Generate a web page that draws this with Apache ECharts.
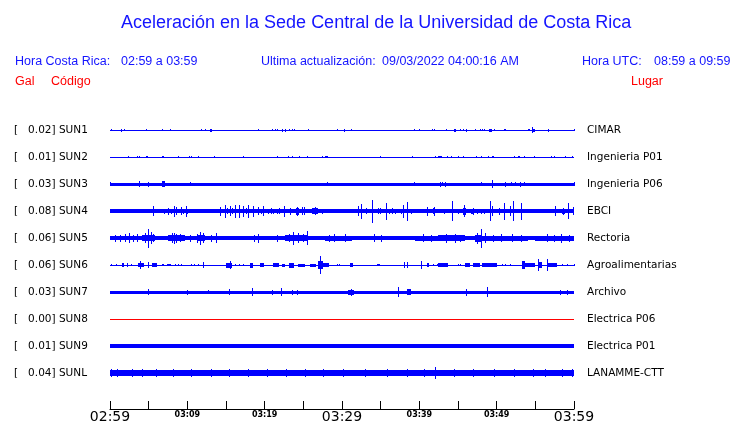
<!DOCTYPE html>
<html>
<head>
<meta charset="utf-8">
<title>Aceleración Sede Central UCR</title>
<script src="https://cdn.jsdelivr.net/npm/echarts@6.0.0/dist/echarts.min.js"></script>
<style>
  html, body { margin: 0; padding: 0; background: #fff; }
  #chart { width: 740px; height: 423px; }
</style>
</head>
<body>
<div id="chart"></div>
<script>
// estaciones (de arriba hacia abajo)
const codes = ['SUN1', 'SUN2', 'SUN3', 'SUN4', 'SUN5', 'SUN6', 'SUN7', 'SUN8', 'SUN9', 'SUNL']
const gal = [0.02, 0.01, 0.03, 0.08, 0.06, 0.06, 0.03, 0.00, 0.01, 0.04]
const places = ['CIMAR', 'Ingenieria P01', 'Ingenieria P06', 'EBCI', 'Rectoria',
  'Agroalimentarias', 'Archivo', 'Electrica P06', 'Electrica P01', 'LANAMME-CTT']

// eje de tiempo: minutos desde 02:59
const timeLabels = ['02:59', '03:09', '03:19', '03:29', '03:39', '03:49', '03:59']
const majorLabels = ['02:59', '03:29', '03:59']

// amplitud del ruido de fondo de cada traza (cuentas)
const baseAmp = [0.5, 0.5, 1.5, 1.8, 1.9, 0.5, 1.5, 0.5, 1.6, 3.0]

// eventos: [minuto inicio, minuto fin, semi-amplitud]
const sun1Events = [
  [0.13, 0.13, 1.0], [1.38, 1.48, 1.5], [1.85, 1.85, 1.2], [4.66, 4.66, 1.2], [6.77, 6.77, 1.2],
  [7.8, 7.8, 0.8], [11.8, 11.8, 1.2], [12.3, 12.3, 1.2], [12.9, 13.25, 1.5], [19.2, 19.2, 1.3],
  [20.9, 20.9, 1.2], [21.4, 21.5, 1.3], [21.6, 21.6, 1.2], [22.2, 22.4, 1.5], [22.6, 22.8, 1.5],
  [23.2, 23.2, 1.2], [23.5, 23.5, 1.2], [23.8, 23.8, 1.2], [25.6, 25.6, 1.2], [29.3, 29.3, 1.0],
  [30.2, 30.35, 1.5], [31.2, 31.2, 0.8], [39.35, 39.35, 1.2], [40.0, 40.0, 0.8], [41.7, 41.7, 1.2],
  [41.9, 41.9, 1.2], [43.4, 43.4, 0.8], [44.5, 44.8, 1.5], [45.2, 45.2, 1.2], [45.7, 45.7, 1.2],
  [46.0, 46.15, 1.5], [47.2, 47.2, 0.8], [47.8, 47.8, 1.2], [48.1, 48.1, 1.2], [48.4, 48.4, 1.2],
  [49.0, 49.4, 1.5], [49.7, 49.7, 1.2], [50.9, 51.2, 1.3], [54.0, 54.0, 1.2], [54.2, 54.2, 1.2],
  [54.6, 54.6, 3.3], [54.75, 55.0, 1.5], [56.6, 56.6, 1.5], [60, 60, 1.2]
]
const sun2Events = [
  [2.37, 2.37, 0.8], [3.45, 3.45, 0.8], [3.75, 3.75, 1.3], [4.65, 4.96, 1.2], [6.68, 6.94, 1.3],
  [8.84, 8.84, 0.8], [10.26, 10.26, 1.0], [10.47, 10.47, 1.2], [11.42, 11.42, 0.8], [13.49, 13.49, 0.8],
  [17.24, 17.24, 0.8], [21.64, 21.64, 0.8], [22.97, 22.97, 0.8], [23.58, 23.58, 1.2], [24.48, 24.48, 0.8],
  [25.52, 25.52, 0.8], [27.46, 27.46, 0.8], [27.8, 28.15, 1.2], [34.96, 34.96, 0.8], [39.1, 39.1, 0.8],
  [42.03, 42.03, 0.8], [42.46, 42.89, 1.2], [43.62, 43.62, 1.0], [44.05, 44.05, 1.2], [45.04, 45.04, 0.8],
  [45.69, 45.69, 1.2], [47.33, 47.33, 0.8], [47.93, 47.93, 0.8], [48.84, 48.84, 0.8], [49.44, 49.7, 1.3],
  [52.28, 52.28, 0.8], [52.72, 52.97, 1.3], [53.49, 53.49, 0.8], [54.87, 54.87, 0.8], [56.98, 57.16, 1.0],
  [57.46, 57.46, 0.8], [58.88, 58.88, 0.8], [59.7, 59.7, 0.8]
]
const sun3Events = [
  [0, 0.1, 2.0], [3.79, 3.79, 2.7], [4.91, 4.91, 2.5], [6.77, 7.11, 2.7], [10.39, 10.39, 2.2],
  [28.1, 28.1, 2.2], [39.35, 39.35, 1.8], [42.67, 42.67, 2.5], [42.97, 42.97, 2.0], [43.28, 43.28, 2.5],
  [47.93, 47.93, 2.0], [49.44, 49.44, 4.3], [51.08, 51.08, 2.5], [51.85, 51.85, 2.0], [52.37, 52.37, 2.0],
  [52.97, 52.97, 2.5], [53.49, 53.49, 2.0], [59.96, 59.96, 2.0]
]
const sun4Events = [
  [1.72, 1.72, 2.0], [2.8, 2.8, 1.8], [4.0, 4.0, 1.8], [5.6, 5.6, 5.0], [6.94, 6.94, 2.5],
  [7.54, 7.54, 3.5], [7.89, 7.89, 2.5], [8.32, 8.32, 5.5], [8.53, 8.53, 4.0], [9.22, 9.22, 4.0],
  [9.48, 9.48, 2.5], [9.78, 9.78, 5.5], [10.0, 10.0, 2.5], [14.27, 14.27, 4.5], [14.87, 14.87, 6.5],
  [15.13, 15.13, 3.0], [15.56, 15.56, 5.0], [15.78, 15.78, 3.0], [16.12, 16.12, 6.5], [16.72, 16.72, 6.5],
  [17.24, 17.24, 5.5], [17.54, 17.54, 3.0], [17.8, 17.8, 6.5], [18.45, 18.45, 5.5], [19.18, 19.18, 4.0],
  [19.48, 19.48, 2.5], [19.83, 19.83, 5.0], [20.47, 20.47, 2.5], [20.82, 20.82, 3.0], [21.12, 21.12, 2.5],
  [21.55, 21.55, 2.5], [21.9, 21.9, 3.0], [22.54, 22.54, 5.5], [22.97, 25.39, 2.3], [23.3, 23.3, 3.5],
  [24.0, 24.48, 3.5], [24.2, 24.2, 4.5], [24.78, 24.78, 4.0], [25.09, 25.09, 4.0], [26.16, 26.94, 3.3],
  [26.5, 26.5, 4.0], [27.37, 27.37, 2.5], [30.69, 31.03, 2.3], [32.03, 32.03, 5.0], [32.46, 32.46, 7.5],
  [33.1, 33.1, 3.0], [33.92, 33.92, 11.5], [34.61, 34.61, 3.0], [34.96, 34.96, 3.0], [35.65, 35.65, 8.5],
  [36.08, 36.08, 2.5], [36.51, 36.51, 3.0], [36.85, 36.85, 2.5], [37.63, 37.63, 2.5], [37.93, 37.93, 6.5],
  [38.45, 38.45, 9.5], [38.92, 38.92, 2.5], [41.03, 41.03, 4.5], [41.72, 42.03, 3.0], [41.85, 41.85, 4.5],
  [43.23, 43.23, 2.5], [44.18, 44.18, 10.0], [45.04, 45.04, 2.5], [45.69, 46.03, 3.5], [45.8, 45.8, 6.0],
  [46.68, 47.11, 2.5], [46.9, 46.9, 3.5], [47.5, 47.5, 2.5], [47.93, 47.93, 2.5], [48.36, 48.36, 2.5],
  [49.14, 49.14, 10.0], [49.44, 49.44, 5.0], [50.34, 50.34, 3.5], [50.99, 50.99, 8.5], [51.72, 51.72, 5.0],
  [52.16, 52.16, 10.0], [53.1, 53.1, 8.5], [54.0, 54.96, 2.2], [55.39, 55.39, 2.0], [57.54, 57.54, 5.0],
  [58.49, 58.84, 2.5], [58.6, 58.6, 3.5], [59.27, 59.27, 8.0], [59.91, 59.91, 4.0]
]
const sun5Events = [
  [0.13, 1.08, 2.4], [1.08, 4.09, 2.2], [4.09, 5.82, 2.8], [7.54, 9.7, 2.7], [9.7, 11.42, 2.2],
  [11.42, 12.28, 3.2], [12.28, 14.22, 2.3], [17.89, 19.61, 2.2], [20.9, 22.63, 2.2], [22.63, 25.65, 2.9],
  [27.8, 31.25, 2.5], [32.97, 35.99, 2.2], [39.44, 42.46, 2.5], [42.46, 45.9, 2.8], [45.9, 47.2, 2.2],
  [47.2, 48.06, 3.5], [48.06, 54.09, 2.5], [54.96, 60, 2.5],
  [0.6, 0.6, 3.5], [1.3, 1.3, 3.5], [1.94, 1.94, 4.0], [2.46, 2.46, 5.0], [3.0, 3.0, 3.5],
  [3.45, 3.45, 4.0], [4.5, 4.5, 5.0], [4.87, 4.87, 9.5], [5.3, 5.3, 6.0], [5.6, 5.6, 4.0],
  [7.97, 7.97, 5.0], [8.32, 8.32, 5.5], [8.49, 8.49, 4.5], [9.0, 9.0, 4.0], [10.3, 10.3, 3.5],
  [11.25, 11.25, 4.5], [11.59, 11.59, 6.5], [12.07, 12.07, 5.0], [13.0, 13.0, 3.5], [13.71, 13.71, 5.0],
  [18.6, 18.6, 3.5], [19.18, 19.18, 4.5], [21.6, 21.6, 3.5], [23.1, 23.1, 4.0], [23.71, 23.71, 6.5],
  [24.35, 24.35, 5.0], [25.0, 25.0, 4.0], [25.52, 25.52, 7.0], [28.3, 28.3, 3.5], [29.0, 29.0, 4.0],
  [30.4, 30.4, 4.0], [34.2, 34.2, 4.0], [35.0, 35.0, 3.5], [40.5, 40.5, 4.0], [41.5, 41.5, 3.5],
  [43.5, 43.5, 4.5], [44.6, 44.6, 4.5], [45.2, 45.2, 3.5], [47.5, 47.5, 5.5], [47.93, 47.93, 9.5],
  [48.5, 48.5, 5.0], [49.5, 49.5, 3.5], [50.5, 50.5, 4.0], [52.0, 52.0, 4.0], [53.2, 53.2, 3.5],
  [56.5, 56.5, 4.0], [57.4, 57.4, 3.5], [58.3, 58.3, 4.5], [59.4, 59.4, 3.5]
]
const sun6Events = [
  [0.13, 0.13, 1.3], [0.78, 0.78, 1.0], [1.51, 1.85, 1.8], [2.16, 2.37, 2.0], [2.67, 2.67, 1.0],
  [3.66, 4.35, 2.0], [3.92, 3.92, 3.7], [4.96, 4.96, 3.0], [5.39, 6.12, 1.8], [6.68, 6.94, 1.2],
  [7.33, 7.84, 1.3], [8.4, 8.4, 1.0], [8.75, 8.75, 1.0], [9.18, 9.18, 1.0], [10.43, 10.43, 0.8],
  [10.9, 10.9, 0.8], [11.42, 11.42, 0.8], [12.03, 12.03, 3.0], [14.96, 15.73, 2.5], [15.56, 15.56, 3.7],
  [16.16, 16.16, 1.2], [16.68, 16.68, 1.2], [17.24, 17.24, 1.2], [18.15, 18.53, 2.5], [19.44, 19.87, 1.8],
  [21.03, 21.9, 2.3], [22.2, 22.63, 1.5], [23.19, 23.79, 2.5], [24.35, 25.22, 1.5], [25.86, 26.59, 1.5],
  [26.94, 27.59, 4.0], [27.2, 27.2, 9.3], [27.59, 28.32, 2.0], [29.31, 29.31, 1.0], [29.66, 29.66, 1.0],
  [30.99, 31.47, 2.3], [34.57, 34.96, 1.3], [37.97, 37.97, 3.0], [38.45, 38.45, 3.0], [40.17, 40.17, 4.3],
  [41.03, 41.29, 2.0], [41.81, 41.81, 1.2], [42.33, 42.33, 1.2], [42.46, 43.75, 2.3], [44.96, 44.96, 1.0],
  [45.26, 45.26, 1.0], [45.9, 46.55, 2.0], [46.9, 47.84, 1.8], [48.06, 50.0, 1.8], [50.65, 50.65, 1.0],
  [51.08, 51.08, 1.0], [51.72, 51.72, 1.0], [53.23, 53.66, 4.3], [53.66, 54.96, 2.2], [55.3, 55.3, 6.0],
  [55.39, 55.82, 3.0], [56.51, 56.51, 6.3], [56.68, 57.76, 2.0], [58.49, 58.49, 1.2], [59.05, 59.05, 1.2],
  [60, 60, 1.2]
]
const sun7Events = [
  [4.87, 4.87, 3.3], [9.91, 9.91, 2.5], [12.63, 12.63, 2.3], [15.39, 15.39, 3.3], [18.32, 18.32, 3.7],
  [20.9, 20.9, 2.5], [22.07, 22.07, 3.7], [23.49, 23.49, 2.5], [24.14, 24.14, 2.5], [30.82, 31.59, 2.5],
  [31.16, 31.16, 3.5], [37.28, 37.28, 4.7], [38.36, 38.88, 2.8], [45.99, 45.99, 3.5], [48.71, 48.71, 5.0],
  [58.19, 58.19, 2.5], [59.05, 59.05, 2.5]
]
const sun8Events = []
const sun9Events = []
const sunlEvents = [
  [0.1, 0.1, 3.8], [0.9, 0.9, 3.8], [2.8, 2.8, 4.2], [4.2, 4.2, 3.8], [6.0, 6.0, 3.8],
  [8.19, 8.19, 4.2], [10.5, 10.5, 3.8], [13.1, 13.1, 3.8], [15.4, 15.4, 3.8], [17.89, 17.89, 4.2],
  [20.3, 20.3, 3.8], [22.8, 22.8, 3.8], [25.2, 25.2, 3.8], [27.59, 27.59, 4.2], [30.17, 30.17, 4.2],
  [33.0, 33.0, 3.8], [35.8, 35.8, 3.8], [38.4, 38.4, 3.8], [40.6, 40.6, 3.8], [42.03, 42.03, 6.0],
  [44.5, 44.5, 3.8], [47.0, 47.0, 3.8], [49.6, 49.6, 3.8], [52.3, 52.3, 3.8], [54.7, 54.7, 3.8],
  [56.25, 56.25, 4.2], [58.4, 58.4, 3.8], [59.8, 59.8, 3.8]
]
const events = [sun1Events, sun2Events, sun3Events, sun4Events, sun5Events,
  sun6Events, sun7Events, sun8Events, sun9Events, sunlEvents]

const rowStep = 27
const traceColor = '#0000ff'
const deadColor = '#ff0000'
const textBlue = '#1414ff'

// [fila, inicio, fin, semi-amplitud]
const traceData = []
codes.forEach((c, i) => {
  traceData.push([i, 0, 60, baseAmp[i]])
  events[i].forEach(e => traceData.push([i, e[0], e[1], e[2]]))
})

function renderTrace(params, api) {
  const row = api.value(0)
  const y0 = row * rowStep
  const amp = api.value(3)
  const a = api.coord([api.value(1), y0 - amp])
  const b = api.coord([api.value(2), y0 + amp])
  const left = Math.round(a[0])
  const right = Math.max(left + 1, Math.round(b[0]))
  const top = Math.round(Math.min(a[1], b[1]))
  const bottom = Math.max(top + 1, Math.round(Math.max(a[1], b[1])))
  return {
    type: 'rect',
    shape: { x: left, y: top, width: right - left, height: bottom - top },
    style: { fill: gal[row] === 0 ? deadColor : traceColor }
  }
}

const chart = echarts.init(document.getElementById('chart'))
const headStyle = { fontFamily: 'Liberation Sans', fontSize: 12.5, fontWeight: 'normal', color: textBlue }
const redStyle = Object.assign({}, headStyle, { color: '#ff0000' })

chart.setOption({
  animation: false,
  backgroundColor: '#fff',
  title: [
    { text: 'Aceleración en la Sede Central de la Universidad de Costa Rica', left: 121, top: 14, padding: 0,
      textStyle: { fontFamily: 'Liberation Sans', fontSize: 18, fontWeight: 'normal', color: textBlue } },
    { text: 'Hora Costa Rica:', left: 15, top: 55, padding: 0, textStyle: headStyle },
    { text: '02:59 a 03:59', left: 121, top: 55, padding: 0, textStyle: headStyle },
    { text: 'Ultima actualización:', left: 261, top: 55, padding: 0, textStyle: headStyle },
    { text: '09/03/2022 04:00:16 AM', left: 382, top: 55, padding: 0, textStyle: headStyle },
    { text: 'Hora UTC:', left: 582, top: 55, padding: 0, textStyle: headStyle },
    { text: '08:59 a 09:59', left: 654, top: 55, padding: 0, textStyle: headStyle },
    { text: 'Gal', left: 15, top: 75, padding: 0, textStyle: redStyle },
    { text: 'Código', left: 51, top: 75, padding: 0, textStyle: redStyle },
    { text: 'Lugar', left: 631, top: 75, padding: 0, textStyle: redStyle }
  ],
  grid: { left: 110, right: 166, top: 103, bottom: 14, containLabel: false, outerBoundsMode: 'none' },
  xAxis: {
    type: 'value', min: 0, max: 60, interval: 5,
    axisLine: { show: true, onZero: false, lineStyle: { color: '#000', width: 1 } },
    axisTick: { show: true, inside: true, length: 8, lineStyle: { color: '#000' } },
    splitLine: { show: false },
    axisLabel: {
      margin: 1,
      formatter: v => {
        if (v % 10 !== 0) return ''
        const label = timeLabels[v / 10]
        return majorLabels.includes(label) ? '{big|' + label + '}' : '{small|' + label + '}'
      },
      rich: {
        big: { fontFamily: 'DejaVu Sans', fontSize: 14, lineHeight: 15, color: '#000' },
        small: { fontFamily: 'DejaVu Sans', fontSize: 8, fontWeight: 'bold', lineHeight: 10, color: '#000' }
      }
    }
  },
  yAxis: [
    {
      type: 'value', inverse: true, min: -rowStep, max: 279, interval: rowStep, position: 'left',
      axisLine: { show: false }, axisTick: { show: false }, splitLine: { show: false },
      axisLabel: {
        margin: 96, align: 'left', fontFamily: 'DejaVu Sans', fontSize: 10.5, color: '#000',
        formatter: v => {
          const i = Math.round(v / rowStep)
          return i >= 0 && i < codes.length ? '[   ' + gal[i].toFixed(2) + '] ' + codes[i] : ''
        }
      }
    },
    {
      type: 'value', inverse: true, min: -rowStep, max: 279, interval: rowStep, position: 'right',
      axisLine: { show: false }, axisTick: { show: false }, splitLine: { show: false },
      axisLabel: {
        margin: 13, align: 'left', fontFamily: 'DejaVu Sans', fontSize: 10.5, color: '#000',
        formatter: v => {
          const i = Math.round(v / rowStep)
          return i >= 0 && i < places.length ? places[i] : ''
        }
      }
    }
  ],
  series: [{
    type: 'custom',
    renderItem: renderTrace,
    clip: false,
    encode: { x: [1, 2], y: 3 },
    data: traceData
  }]
})
</script>
</body>
</html>
